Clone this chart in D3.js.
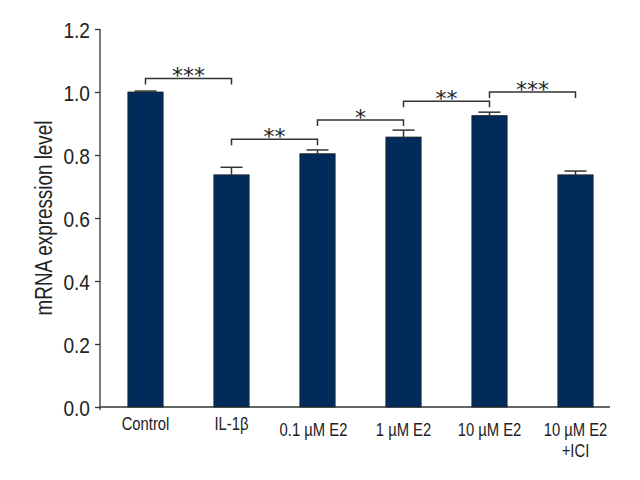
<!DOCTYPE html>
<html>
<head>
<meta charset="utf-8">
<script src="https://cdn.jsdelivr.net/npm/d3@7"></script>
<style>
  html, body { margin: 0; padding: 0; background: #fff; }
  svg { display: block; }
  .cond { font-family: "Liberation Sans", Arial, sans-serif; }
</style>
</head>
<body>
<svg id="chart" width="640" height="480"></svg>
<script>
// ---- data ----
const categories = ["Control", "IL-1β", "0.1 µM E2", "1 µM E2", "10 µM E2", "10 µM E2\n+ICI"];
const values = [1.0, 0.737, 0.804, 0.857, 0.925, 0.737];
const errors = [0.003, 0.024, 0.012, 0.022, 0.011, 0.012];
const yTicks = [0.0, 0.2, 0.4, 0.6, 0.8, 1.0, 1.2];
const yTitle = "mRNA expression level";
// significance brackets
const sigFrom = [0, 1, 2, 3, 4];
const sigTo = [1, 2, 3, 4, 5];
const sigLevel = [1.043, 0.850, 0.911, 0.971, 1.0];
const sigLabel = ["***", "**", "*", "**", "***"];

// ---- layout ----
const svg = d3.select("#chart");
const barColor = "#012b5b";
const ink = "#333";
const squeeze = 0.8; // condensed look

function narrow(sel, ax) {
  // horizontally compress text around its anchor point
  sel.attr("transform", function () {
    const xx = ax !== undefined ? ax : +d3.select(this).attr("x") || 0;
    return `translate(${xx},0) scale(${squeeze},1) translate(${-xx},0)`;
  });
}

const x = d3.scaleBand()
  .domain(categories)
  .range([102.5, 618.5])
  .paddingInner(0.59)
  .paddingOuter(0.295);

const y = d3.scaleLinear().domain([0, 1.2]).range([407, 29]);

// y axis
const yAxis = d3.axisLeft(y).tickValues(yTicks).tickFormat(d3.format(".1f")).tickSize(5).tickPadding(5);
const gy = svg.append("g").attr("transform", "translate(100,0)").call(yAxis);
gy.select(".domain").attr("stroke", ink).attr("stroke-width", 1.3).attr("d", "M0,29V410");
gy.selectAll(".tick line").attr("stroke", ink).attr("stroke-width", 1.3);
gy.selectAll(".tick text")
  .attr("class", "cond")
  .attr("font-size", 22.5)
  .attr("fill", "#222")
  .attr("dy", "0.36em")
  .each(function () {
    const t = d3.select(this);
    const xx = +t.attr("x");
    t.attr("transform", `translate(${xx},0) scale(0.85,1) translate(${-xx},0)`);
  });

// x axis line
svg.append("line")
  .attr("x1", 100).attr("x2", 610)
  .attr("y1", y(0)).attr("y2", y(0))
  .attr("stroke", ink).attr("stroke-width", 1.3);

// bars
svg.append("g").selectAll("rect")
  .data(categories)
  .join("rect")
  .attr("x", d => x(d))
  .attr("width", x.bandwidth())
  .attr("y", (d, i) => y(values[i]))
  .attr("height", (d, i) => y(0) - y(values[i]))
  .attr("fill", barColor)
  .attr("stroke", "#222")
  .attr("stroke-width", 0.8);

// error bars
const capW = 22;
const eg = svg.append("g").attr("stroke", ink).attr("stroke-width", 1.5);
categories.forEach((c, i) => {
  const cx = x(c) + x.bandwidth() / 2;
  eg.append("line").attr("x1", cx).attr("x2", cx).attr("y1", y(values[i])).attr("y2", y(values[i] + errors[i]));
  eg.append("line").attr("x1", cx - capW / 2).attr("x2", cx + capW / 2)
    .attr("y1", y(values[i] + errors[i])).attr("y2", y(values[i] + errors[i]));
});

// x labels
const xl = svg.append("g");
categories.forEach((c, i) => {
  const cx = x(c) + x.bandwidth() / 2 - (i === 2 ? 4 : 0);
  const t = xl.append("text")
    .attr("class", "cond")
    .attr("text-anchor", "middle")
    .attr("font-size", 18.5)
    .attr("fill", "#222")
    .attr("x", cx)
    .attr("y", i < 2 ? 430 : 436)
    .attr("transform", `translate(${cx},0) scale(${squeeze},1) translate(${-cx},0)`);
  c.split("\n").forEach((line, j) => {
    t.append("tspan").attr("x", cx).attr("dy", j === 0 ? 0 : 21).text(line);
  });
});

// y title
svg.append("text")
  .attr("class", "cond")
  .attr("transform", `translate(52,218) rotate(-90) scale(${squeeze + 0.02},1)`)
  .attr("text-anchor", "middle")
  .attr("font-size", 23)
  .attr("fill", "#222")
  .text(yTitle);

// significance brackets
const sg = svg.append("g");
sigFrom.forEach((a, k) => {
  const b = sigTo[k];
  const x1 = x(categories[a]) + x.bandwidth() / 2;
  const x2 = x(categories[b]) + x.bandwidth() / 2;
  const yy = y(sigLevel[k]);
  sg.append("path")
    .attr("d", `M${x1},${yy + 6}V${yy}H${x2}V${yy + 6}`)
    .attr("fill", "none")
    .attr("stroke", ink)
    .attr("stroke-width", 1.5);
  sg.append("text")
    .attr("x", (x1 + x2) / 2)
    .attr("y", yy + 5)
    .attr("text-anchor", "middle")
    .attr("font-family", "DejaVu Sans, sans-serif")
    .attr("font-size", 22)
    .attr("fill", "#222")
    .text(sigLabel[k]);
});
</script>
</body>
</html>
